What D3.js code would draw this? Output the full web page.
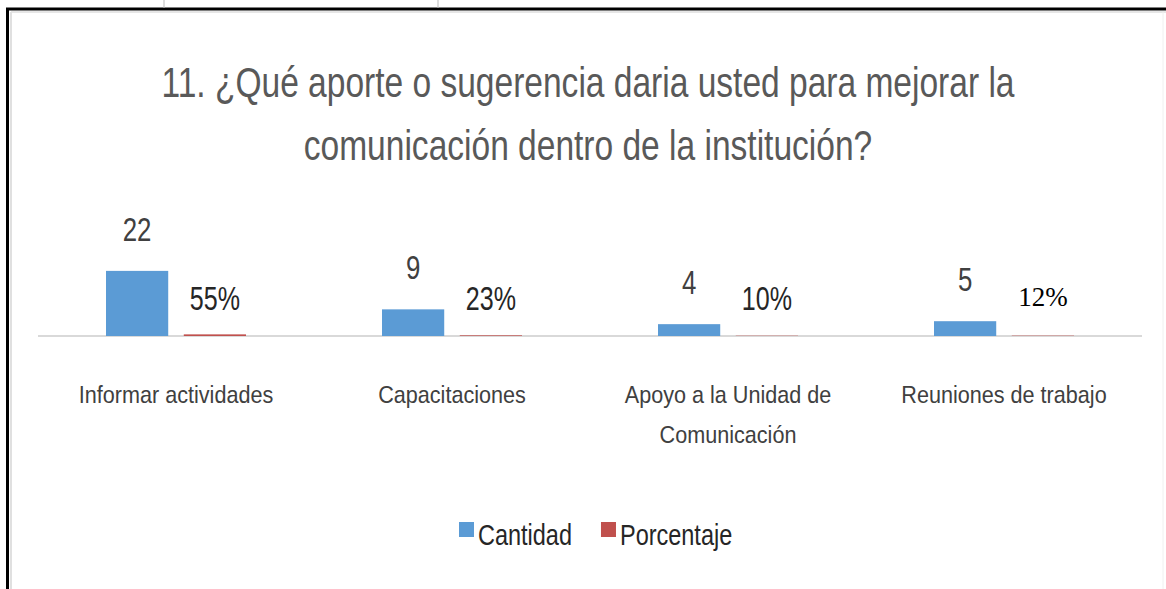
<!DOCTYPE html>
<html>
<head>
<meta charset="utf-8">
<script src="https://cdn.jsdelivr.net/npm/d3@7"></script>
<style>
  body { margin: 0; background: #fff; }
  svg { display: block; }
</style>
</head>
<body>
<svg id="chart"></svg>
<script>
// data
const categories = ["Informar actividades", "Capacitaciones", "Apoyo a la Unidad de Comunicación", "Reuniones de trabajo"];
const categoryLines = [["Informar actividades"], ["Capacitaciones"], ["Apoyo a la Unidad de", "Comunicación"], ["Reuniones de trabajo"]];
const series = ["Cantidad", "Porcentaje"];
const cantidad = [22, 9, 4, 5];
const porcentaje = [0.55, 0.23, 0.10, 0.12];
const porcentajeLabels = ["55%", "23%", "10%", "12%"];
const titleLines = ["11. ¿Qué aporte o sugerencia daria usted para mejorar la", "comunicación dentro de la institución?"];

const width = 1166, height = 589;
const colors = { Cantidad: "#5b9bd5", Porcentaje: "#c0504d" };
const font = "'Liberation Sans', Arial, sans-serif";
const SX = 0.76; // the source text is squeezed horizontally

const svg = d3.select("#chart").attr("width", width).attr("height", height);

// frame of the pasted screenshot
svg.append("line").attr("x1", 6).attr("x2", width).attr("y1", 9).attr("y2", 9)
  .attr("stroke", "#000").attr("stroke-width", 3);
svg.append("line").attr("x1", 7.5).attr("x2", 7.5).attr("y1", 8).attr("y2", height)
  .attr("stroke", "#000").attr("stroke-width", 3);
svg.append("line").attr("x1", 11).attr("x2", width).attr("y1", 12).attr("y2", 12)
  .attr("stroke", "#e6e6e6").attr("stroke-width", 2);
svg.append("line").attr("x1", 11).attr("x2", 11).attr("y1", 12).attr("y2", height)
  .attr("stroke", "#e0e0e0").attr("stroke-width", 2);
[164, 438].forEach(x => svg.append("line").attr("x1", x).attr("x2", x).attr("y1", 0).attr("y2", 8)
  .attr("stroke", "#bbb").attr("stroke-width", 1));
svg.append("line").attr("x1", 1163).attr("x2", 1163).attr("y1", 12).attr("y2", height)
  .attr("stroke", "#f0f0f0").attr("stroke-width", 1);

function squeezedText(g, x, y, str, size, fill, anchor, family, sx) {
  return g.append("text")
    .attr("transform", `translate(${x},${y}) scale(${sx === undefined ? SX : sx},1)`)
    .attr("text-anchor", anchor || "middle")
    .attr("font-family", family || font)
    .attr("font-size", size)
    .attr("fill", fill)
    .text(str);
}

// title
titleLines.forEach((t, i) => squeezedText(svg, 588, 97 + i * 63, t, 43, "#595959", "middle", font, 0.78));

// scales
const x0 = d3.scaleBand().domain(categories).range([38, 1142]);
const x1 = d3.scaleBand().domain(series).range([0, 140]).paddingInner(0.2);
const groupOffset = (x0.bandwidth() - 140) / 2;
const y = d3.scaleLinear().domain([0, 25]).range([336, 262]);

// baseline
svg.append("line").attr("x1", x0.range()[0]).attr("x2", x0.range()[1])
  .attr("y1", y(0)).attr("y2", y(0)).attr("stroke", "#d9d9d9").attr("stroke-width", 2);

const rows = categories.map((c, i) => ({ cat: c, i, Cantidad: cantidad[i], Porcentaje: porcentaje[i] }));

const groups = svg.selectAll("g.cat").data(rows).join("g")
  .attr("class", "cat")
  .attr("transform", d => `translate(${x0(d.cat) + groupOffset},0)`);

groups.selectAll("rect").data(d => series.map(s => ({ s, v: d[s] }))).join("rect")
  .attr("x", d => x1(d.s))
  .attr("width", x1.bandwidth())
  .attr("y", d => y(d.v))
  .attr("height", d => Math.max(y(0) - y(d.v), 0))
  .attr("fill", d => colors[d.s]);

// value labels
groups.each(function (d) {
  const g = d3.select(this);
  squeezedText(g, x1("Cantidad") + x1.bandwidth() / 2, y(d.Cantidad) - 30, d.Cantidad, 34, "#404040");
  const px = x1("Porcentaje") + x1.bandwidth() / 2;
  if (d.i === 3) {
    // this one was retyped in a serif face
    squeezedText(g, px, y(0) - 30, porcentajeLabels[d.i], 27, "#000", "middle", "'Liberation Serif', 'Times New Roman', serif", 1);
  } else {
    squeezedText(g, px, y(0) - 26, porcentajeLabels[d.i], 33, "#262626");
  }
});

// category labels
categoryLines.forEach((lines, i) => {
  lines.forEach((t, j) => squeezedText(svg, x0(categories[i]) + x0.bandwidth() / 2, 403 + j * 40, t, 24, "#404040", "middle", font, 0.9));
});

// legend
const LSX = 0.81;
const legend = svg.append("g").attr("transform", "translate(459,522)");
let lx = 0;
series.forEach(s => {
  legend.append("rect").attr("x", lx).attr("y", 0).attr("width", 15).attr("height", 15).attr("fill", colors[s]);
  const t = squeezedText(legend, lx + 19, 23, s, 29, "#262626", "start", font, LSX);
  lx += 19 + t.node().getComputedTextLength() * LSX + 29;
});
</script>
</body>
</html>
